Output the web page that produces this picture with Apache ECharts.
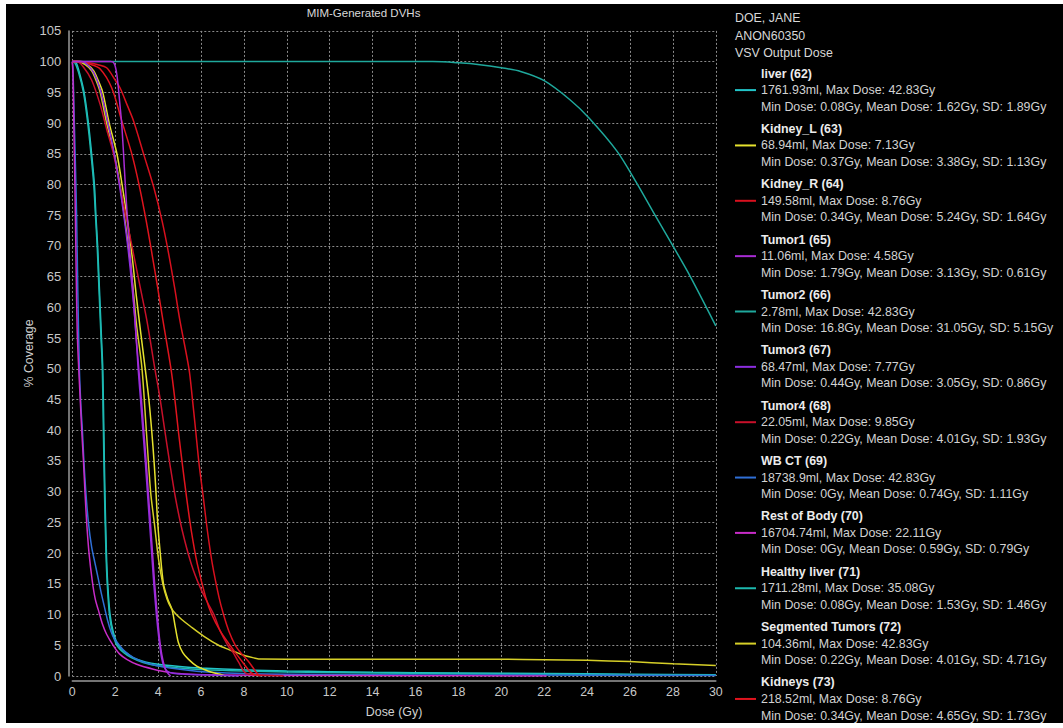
<!DOCTYPE html>
<html>
<head>
<meta charset="utf-8">
<script src="https://cdn.jsdelivr.net/npm/echarts@6/dist/echarts.min.js"></script>
<style>
  html, body { margin: 0; padding: 0; background: #ffffff; width: 1063px; height: 728px; overflow: hidden; }
  #chart { position: absolute; left: 6px; top: 4px; width: 1057px; height: 719px; background: #000000; }
</style>
</head>
<body>
<div id="chart"></div>
<script>
// ---------- data (dose in Gy, coverage in %) ----------
const xTicks = [0, 2, 4, 6, 8, 10, 12, 14, 16, 18, 20, 22, 24, 26, 28, 30];
const yTicks = [0, 5, 10, 15, 20, 25, 30, 35, 40, 45, 50, 55, 60, 65, 70, 75, 80, 85, 90, 95, 100, 105];

const headerLines = ['DOE, JANE', 'ANON60350', 'VSV Output Dose'];
const chartTitle = 'MIM-Generated DVHs';

const structNames = ['liver (62)', 'Kidney_L (63)', 'Kidney_R (64)', 'Tumor1 (65)', 'Tumor2 (66)', 'Tumor3 (67)',
  'Tumor4 (68)', 'WB CT (69)', 'Rest of Body (70)', 'Healthy liver (71)', 'Segmented Tumors (72)', 'Kidneys (73)'];
const volumes   = ['1761.93', '68.94', '149.58', '11.06', '2.78', '68.47', '22.05', '18738.9', '16704.74', '1711.28', '104.36', '218.52'];
const maxDoses  = ['42.83', '7.13', '8.76', '4.58', '42.83', '7.77', '9.85', '42.83', '22.11', '35.08', '42.83', '8.76'];
const minDoses  = ['0.08', '0.37', '0.34', '1.79', '16.8', '0.44', '0.22', '0', '0', '0.08', '0.22', '0.34'];
const meanDoses = ['1.62', '3.38', '5.24', '3.13', '31.05', '3.05', '4.01', '0.74', '0.59', '1.53', '4.01', '4.65'];
const sdDoses   = ['1.89', '1.13', '1.64', '0.61', '5.15', '0.86', '1.93', '1.11', '0.79', '1.46', '4.71', '1.73'];

const liverDVH = [[0,100],[0.16,99.9],[0.3,98.6],[0.55,95],[0.75,90],[0.9,85],[1.03,80],[1.1,75],[1.18,70],[1.24,65],[1.3,60],[1.36,55],[1.42,50],[1.47,40],[1.52,30],[1.59,20],[1.65,15],[1.76,10],[1.92,7],[2.15,5],[2.5,3.8],[2.84,3],[3.4,2.3],[4,1.9],[5,1.55],[6,1.3],[8,1.0],[10,0.82],[12,0.7],[14,0.6],[18,0.5],[22,0.4],[26,0.3],[30,0.22]];
const kidneyLDVH = [[0,100],[0.37,100],[0.7,99.5],[1.0,98.5],[1.2,97],[1.42,95],[1.72,90],[2.08,85],[2.32,80],[2.58,74],[2.8,68],[2.98,62],[3.15,57],[3.4,50],[3.57,45],[3.7,40],[3.81,35],[3.9,30],[3.98,25],[4.1,20],[4.25,15],[4.45,12.5],[4.65,10.8],[4.8,8],[4.95,5.4],[5.15,3.8],[5.42,2.7],[5.8,1.6],[6.12,1.1],[6.5,0.6],[6.9,0.27],[7.13,0]];
const kidneyRDVH = [[0,100],[0.34,100],[0.8,99.8],[1.2,99.5],[1.6,99],[2.0,97],[2.23,95.7],[2.55,93],[2.86,90.3],[3.33,84.9],[3.8,79.5],[4.19,74],[4.5,68.6],[4.77,63.2],[5.02,57.8],[5.44,50],[5.59,45.4],[5.75,40],[5.91,34.5],[6.11,29],[6.3,23.6],[6.53,18.2],[6.84,12.8],[7.05,10],[7.3,7.3],[7.6,5],[7.85,3.8],[8.25,2.2],[8.6,0.5],[8.76,0]];
const tumor1DVH = [[0,100],[1.79,100],[1.95,99.7],[2.05,98.5],[2.14,96],[2.22,93],[2.3,90],[2.39,85],[2.47,80],[2.56,75],[2.66,70],[2.78,65],[2.88,60],[2.98,55],[3.1,50],[3.22,45],[3.33,40],[3.44,35],[3.54,30],[3.64,25],[3.74,20],[3.84,15],[3.96,10],[4.07,6],[4.17,3.5],[4.3,1.5],[4.44,0.5],[4.58,0]];
const tumor2DVH = [[0,100],[16.8,100],[18,99.8],[19,99.5],[20,99.0],[20.9,98.4],[22,96.9],[23.2,93.8],[24.1,90.8],[25.4,85.4],[26.3,80.3],[27.2,74.8],[28,70],[28.8,65.1],[30,57]];
const tumor3DVH = [[0,100],[0.44,100],[0.7,99.5],[1.0,98.2],[1.3,95.5],[1.6,91],[1.9,86],[2.15,81],[2.4,75],[2.6,69.5],[2.78,63.5],[2.93,57.5],[3.07,50],[3.18,45],[3.29,40],[3.4,35],[3.5,30],[3.6,25],[3.7,20],[3.8,15],[3.92,10],[4.04,6],[4.16,3],[4.28,1.5],[4.42,0.8],[4.7,0.45],[5.2,0.3],[6,0.2],[7,0.1],[7.77,0]];
const tumor4DVH = [[0,100],[0.22,100],[0.5,99.2],[0.9,97],[1.3,93],[1.6,89],[1.92,85],[2.23,79.5],[2.55,74],[2.86,68.6],[3.17,63.2],[3.48,57.8],[3.85,50],[4.08,45.4],[4.31,40],[4.55,34.5],[4.81,29],[5.13,23.6],[5.55,18.2],[5.95,14.5],[6.3,12],[6.6,10],[6.9,7.3],[7.25,5],[7.5,3.8],[7.76,2.2],[8.07,0.5],[8.6,0.15],[9.85,0]];
const wbctDVH = [[0,100],[0.03,99],[0.08,92],[0.14,84],[0.2,75],[0.26,62],[0.33,50],[0.4,44],[0.47,40],[0.54,35],[0.63,30],[0.75,25],[0.9,21],[1.05,18.5],[1.2,16],[1.35,13.5],[1.5,11.2],[1.65,9],[1.8,7.3],[1.95,6.1],[2.15,5.2],[2.45,4.0],[2.85,3.0],[3.3,2.3],[3.9,1.7],[4.56,1.3],[5.5,0.9],[6.5,0.6],[8,0.4],[10,0.3],[14,0.2],[20,0.15],[30,0.1]];
const restBodyDVH = [[0,100],[0.03,98],[0.08,88],[0.13,78],[0.18,66],[0.23,56],[0.3,50],[0.37,45],[0.44,40],[0.52,35],[0.59,30],[0.67,25],[0.78,20],[0.93,15.5],[1.07,12.5],[1.21,10.8],[1.4,8.5],[1.6,6.8],[1.92,4.9],[2.2,3.6],[2.54,2.7],[3.0,1.9],[3.78,1.1],[4.56,0.55],[5.5,0.3],[7,0.18],[10,0.1],[15,0.05],[22.11,0]];
const healthyLiverDVH = [[0,100],[0.1,99.9],[0.28,98.4],[0.52,95],[0.72,90],[0.87,85],[1.0,80],[1.08,75],[1.16,70],[1.22,65],[1.28,60],[1.34,55],[1.4,50],[1.45,40],[1.5,30],[1.57,20],[1.63,15],[1.73,10],[1.88,7],[2.08,5],[2.4,3.8],[2.75,3],[3.3,2.2],[3.9,1.7],[5,1.3],[6,1.05],[8,0.8],[10,0.66],[12,0.56],[14,0.48],[18,0.38],[22,0.28],[26,0.2],[30,0.12]];
const segTumorsDVH = [[0,100],[0.22,100],[0.6,99.5],[0.9,98.5],[1.1,97],[1.3,95],[1.6,90],[1.95,85],[2.22,80],[2.46,74],[2.68,68],[2.86,62],[3.0,57],[3.25,50],[3.45,40],[3.65,30],[3.82,25],[4.02,19],[4.22,15],[4.42,12.5],[4.62,11],[4.85,10],[5.1,9.2],[5.5,8.1],[6.12,6.5],[6.82,5.0],[7.3,4.3],[7.68,3.8],[8.1,3.25],[8.46,2.95],[8.8,2.75],[10,2.73],[14,2.73],[18,2.73],[20,2.72],[22,2.65],[24,2.55],[26,2.34],[28,2.0],[30,1.7]];
const kidneysDVH = [[0,100],[0.34,100],[0.8,99.6],[1.3,98.8],[1.84,95.7],[2.31,90.3],[2.78,84.9],[3.14,79.5],[3.45,74],[3.72,68.6],[3.98,63.2],[4.23,57.8],[4.6,50],[4.77,45.4],[4.94,40],[5.13,34.5],[5.33,29],[5.55,23.6],[5.83,18.2],[6.22,12.8],[6.5,10],[6.9,7.3],[7.35,5],[7.6,3.8],[7.95,2.2],[8.35,0.5],[8.76,0]];

const structData = [liverDVH, kidneyLDVH, kidneyRDVH, tumor1DVH, tumor2DVH, tumor3DVH, tumor4DVH, wbctDVH, restBodyDVH, healthyLiverDVH, segTumorsDVH, kidneysDVH];
const structColors = ['#22c4c8', '#e6e22e', '#d8101e', '#a82cd4', '#1fa89c', '#8c2ee0', '#c8102a', '#2f6fd6', '#c82cc8', '#1cb8ae', '#d6cf28', '#e0141e'];
// drawing order (later = on top)
const drawOrder = [4, 0, 9, 7, 8, 1, 10, 6, 11, 2, 5, 3];

// ---------- chart ----------
const FONT = '"Liberation Sans", Arial, Helvetica, sans-serif';
const chart = echarts.init(document.getElementById('chart'), null, { renderer: 'svg' });

const series = drawOrder.map(i => ({
  name: structNames[i],
  type: 'line',
  data: structData[i],
  showSymbol: false,
  symbol: 'none',
  smooth: 0.3,
  color: structColors[i],
  lineStyle: { color: structColors[i], width: 1.5 },
  emphasis: { disabled: true },
  animation: false
}));

const option = {
  backgroundColor: '#000000',
  animation: false,
  textStyle: { fontFamily: FONT },
  grid: { left: 66.3, top: 26.9, right: 347.2, bottom: 46.3, containLabel: false },
  xAxis: {
    type: 'value', min: xTicks[0], max: xTicks[xTicks.length - 1], interval: 2,
    offset: 5,
    name: 'Dose (Gy)', nameLocation: 'middle', nameGap: 25,
    nameTextStyle: { color: '#d0d0d0', fontSize: 12.4, fontFamily: FONT },
    axisLine: { show: true, onZero: false, lineStyle: { color: '#9a9a9a', width: 1.5 } },
    axisTick: { show: false },
    axisLabel: { color: '#c8c8c8', fontSize: 12.4, margin: 5, fontFamily: FONT },
    splitLine: { show: true, lineStyle: { color: '#8a8a8a', width: 1, type: [2, 2] } }
  },
  yAxis: {
    type: 'value', min: yTicks[0], max: yTicks[yTicks.length - 1], interval: 5,
    offset: 4,
    name: '% Coverage', nameLocation: 'middle', nameGap: 33, nameRotate: 90,
    nameMoveOverlap: false,
    nameTextStyle: { color: '#d0d0d0', fontSize: 12.4, fontFamily: FONT },
    axisLine: { show: true, onZero: false, lineStyle: { color: '#9a9a9a', width: 1.5 } },
    axisTick: { show: false },
    axisLabel: { color: '#c8c8c8', fontSize: 13, margin: 7, fontFamily: FONT },
    splitLine: { show: true, lineStyle: { color: '#8a8a8a', width: 1, type: [2, 2] } }
  },
  legend: {
    data: structNames,
    orient: 'vertical',
    left: 729, top: 63.5,
    width: 320, height: 700,
    padding: 0,
    itemGap: 10.15,
    itemWidth: 21, itemHeight: 2,
    icon: 'rect',
    selectedMode: false,
    formatter: function (name) {
      const i = structNames.indexOf(name);
      return '{t|' + name + '}\n{s|' + volumes[i] + 'ml, Max Dose: ' + maxDoses[i] + 'Gy}\n{s|Min Dose: ' +
        minDoses[i] + 'Gy, Mean Dose: ' + meanDoses[i] + 'Gy, SD: ' + sdDoses[i] + 'Gy}';
    },
    textStyle: {
      color: '#d2d2d2', fontSize: 12.4, fontFamily: FONT,
      rich: {
        t: { color: '#ececec', fontWeight: 'bold', fontSize: 12.4, lineHeight: 16.6, fontFamily: FONT },
        s: { color: '#d2d2d2', fontSize: 12.4, lineHeight: 16.6, fontFamily: FONT }
      }
    }
  },
  graphic: [
    { type: 'text', x: 357.5, y: 9.3, silent: true,
      style: { text: chartTitle, fill: '#d8d8d8', font: '11.5px ' + FONT, textAlign: 'center', textVerticalAlign: 'middle' } }
  ].concat(headerLines.map((t, k) => ({
      type: 'text', x: 729, y: 14.3 + k * 17.2, silent: true,
      style: { text: t, fill: '#d8d8d8', font: '12.4px ' + FONT, textAlign: 'left', textVerticalAlign: 'middle' }
  }))),
  series: series
};
chart.setOption(option);
</script>
</body>
</html>
